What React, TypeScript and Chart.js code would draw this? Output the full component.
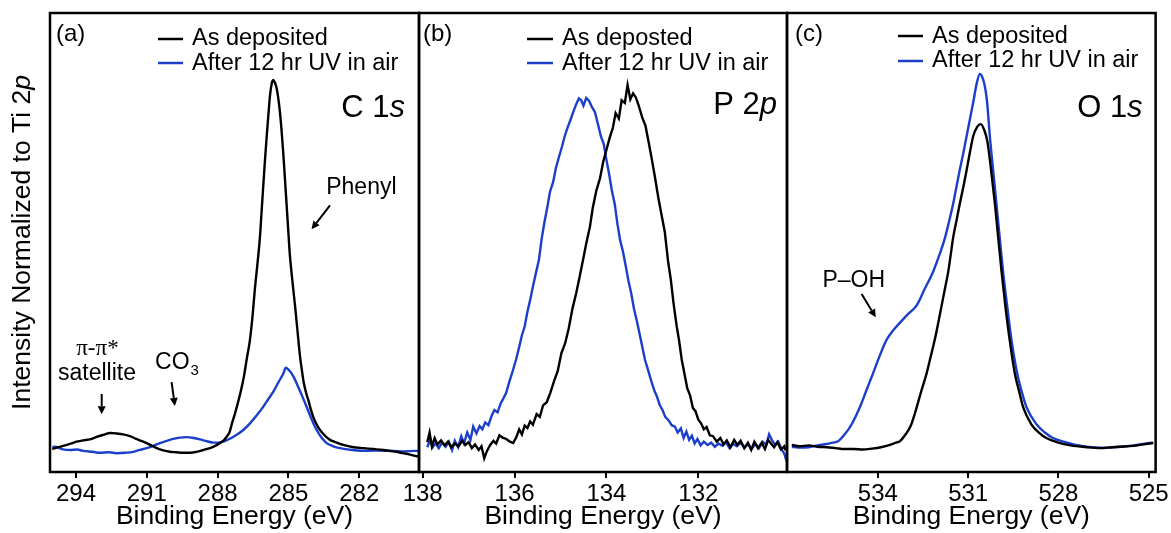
import React, { useEffect, useRef } from 'react';
import { Chart, registerables } from 'chart.js';

Chart.register(...registerables);

const FONT = "'Liberation Sans', Arial, Helvetica, sans-serif";
const SERIF = "'Liberation Serif', 'DejaVu Serif', serif";
const BLACK = '#000000';
const BLUE = '#1c3fc9';

// ---- tick labels ----
const TICKS_C1S = [294, 291, 288, 285, 282];
const TICKS_P2P = [138, 136, 134, 132];
const TICKS_O1S = [534, 531, 528, 525];

// ---- series names ----
const LEGEND_A = ['As deposited', 'After 12 hr UV in air'];
const LEGEND_B = ['As deposted', 'After 12 hr UV in air'];
const LEGEND_C = ['As deposited', 'After 12 hr UV in air'];

// ---- (a) C 1s ----
const C1S_ASDEP_EV = [295.0, 294.89, 294.6, 294.39, 294.15, 293.97, 293.7, 293.41, 293.1, 292.84, 292.55, 292.28, 292.0, 291.71, 291.45, 291.15, 290.85, 290.58, 290.3, 290.02, 289.75, 289.46, 289.15, 288.89, 288.6, 288.32, 288.1, 287.9, 287.72, 287.6, 287.5, 287.38, 287.25, 287.12, 287.0, 286.88, 286.76, 286.63, 286.52, 286.42, 286.31, 286.21, 286.14, 286.07, 286.0, 285.92, 285.85, 285.78, 285.71, 285.64, 285.57, 285.5, 285.43, 285.36, 285.29, 285.22, 285.15, 285.08, 285.01, 284.94, 284.87, 284.8, 284.72, 284.65, 284.58, 284.51, 284.44, 284.37, 284.27, 284.16, 284.05, 283.95, 283.81, 283.67, 283.45, 283.24, 282.95, 282.68, 282.25, 281.83, 281.4, 280.98, 280.55, 280.14, 279.85, 279.64, 279.5];
const C1S_ASDEP_I = [5.0, 5.2, 5.6, 5.9, 6.3, 6.6, 6.9, 7.1, 7.7, 8.1, 8.5, 8.4, 8.2, 7.8, 7.2, 6.6, 5.9, 5.2, 4.7, 4.4, 4.3, 4.2, 4.2, 4.4, 4.8, 5.2, 5.7, 6.3, 7.0, 7.8, 8.6, 10.8, 13.0, 15.5, 18.0, 21.0, 24.8, 28.8, 34.0, 40.0, 45.5, 51.0, 56.5, 62.1, 67.5, 73.2, 77.8, 82.1, 84.6, 85.4, 84.8, 83.6, 81.4, 78.4, 74.3, 69.5, 64.0, 58.4, 52.8, 47.3, 43.5, 40.0, 36.2, 32.5, 28.8, 25.2, 22.5, 20.0, 17.6, 15.7, 13.6, 12.0, 10.4, 9.2, 7.9, 7.0, 6.4, 5.9, 5.4, 5.2, 5.0, 4.8, 4.5, 4.1, 3.8, 3.5, 3.4];
const C1S_UV_EV = [295.0, 294.89, 294.6, 294.25, 293.95, 293.69, 293.3, 292.98, 292.6, 292.28, 291.9, 291.57, 291.3, 291.01, 290.72, 290.44, 290.15, 289.88, 289.6, 289.31, 289.02, 288.75, 288.45, 288.18, 287.95, 287.76, 287.5, 287.19, 286.9, 286.63, 286.35, 286.07, 285.85, 285.64, 285.43, 285.22, 285.11, 285.0, 284.88, 284.76, 284.65, 284.44, 284.23, 284.02, 283.81, 283.6, 283.38, 283.1, 282.82, 282.3, 281.69, 281.2, 280.7, 280.2, 279.64, 279.5];
const C1S_UV_I = [5.4, 5.5, 5.0, 4.8, 4.9, 4.6, 4.4, 4.2, 4.3, 4.1, 4.2, 4.4, 4.8, 5.2, 5.7, 6.3, 6.8, 7.2, 7.5, 7.6, 7.4, 7.1, 6.7, 6.4, 6.4, 6.6, 7.2, 8.1, 9.2, 10.6, 12.3, 14.2, 15.9, 17.5, 19.5, 21.4, 22.7, 22.3, 21.6, 20.5, 19.3, 16.8, 14.2, 11.5, 9.2, 7.5, 6.3, 5.6, 5.2, 4.8, 4.6, 4.7, 4.6, 4.5, 4.6, 4.6];

// ---- (b) P 2p ----
const P2P_ASDEP_EV = [137.9, 137.85, 137.8, 137.74, 137.68, 137.6, 137.52, 137.45, 137.38, 137.3, 137.22, 137.14, 137.07, 137.0, 136.93, 136.86, 136.78, 136.72, 136.66, 136.6, 136.53, 136.46, 136.4, 136.33, 136.26, 136.18, 136.1, 136.03, 135.96, 135.9, 135.84, 135.78, 135.72, 135.66, 135.6, 135.52, 135.45, 135.38, 135.3, 135.22, 135.14, 135.06, 134.98, 134.9, 134.82, 134.74, 134.66, 134.58, 134.51, 134.44, 134.36, 134.3, 134.22, 134.14, 134.07, 134.0, 133.93, 133.86, 133.8, 133.73, 133.67, 133.6, 133.54, 133.48, 133.42, 133.36, 133.3, 133.22, 133.15, 133.08, 133.01, 132.94, 132.87, 132.8, 132.73, 132.66, 132.6, 132.54, 132.47, 132.42, 132.36, 132.3, 132.24, 132.18, 132.12, 132.06, 132.0, 131.94, 131.88, 131.82, 131.75, 131.68, 131.6, 131.52, 131.45, 131.38, 131.3, 131.22, 131.15, 131.08, 131.0, 130.92, 130.85, 130.78, 130.7, 130.62, 130.55, 130.48, 130.41, 130.35, 130.28, 130.2, 130.13, 130.1];
const P2P_ASDEP_I = [6.5, 8.6, 5.6, 7.4, 6.0, 6.9, 5.8, 6.6, 5.4, 6.2, 5.6, 6.8, 5.9, 6.5, 5.2, 6.0, 4.8, 5.6, 3.0, 4.6, 5.9, 6.8, 6.2, 8.0, 7.5, 7.2, 6.6, 6.3, 7.6, 9.3, 8.2, 10.1, 9.6, 11.0, 10.3, 12.6, 12.0, 14.5, 15.2, 17.3, 19.8, 22.0, 25.9, 28.0, 31.3, 35.6, 38.9, 42.7, 46.2, 49.8, 53.4, 57.4, 61.3, 64.0, 67.6, 70.2, 72.8, 75.0, 78.2, 77.0, 81.0, 80.4, 84.3, 81.2, 82.5, 81.6, 79.9, 77.2, 75.4, 71.8, 68.0, 64.0, 59.7, 56.0, 52.3, 46.0, 42.0, 36.8, 31.7, 28.7, 24.4, 21.3, 18.2, 16.7, 14.0, 13.2, 11.4, 10.6, 9.3, 9.8, 8.0, 7.8, 6.6, 7.4, 6.0, 6.9, 5.4, 7.0, 5.9, 6.8, 5.2, 6.4, 4.8, 6.6, 5.2, 6.4, 5.0, 7.0, 6.1, 5.4, 6.5, 4.9, 5.6, 4.7];
const P2P_UV_EV = [137.9, 137.84, 137.78, 137.72, 137.65, 137.58, 137.5, 137.43, 137.36, 137.3, 137.23, 137.16, 137.1, 137.03, 136.96, 136.9, 136.83, 136.76, 136.7, 136.64, 136.57, 136.5, 136.44, 136.37, 136.3, 136.24, 136.18, 136.11, 136.04, 135.97, 135.9, 135.84, 135.78, 135.72, 135.66, 135.6, 135.53, 135.47, 135.41, 135.35, 135.29, 135.23, 135.16, 135.1, 135.04, 134.97, 134.91, 134.85, 134.78, 134.72, 134.66, 134.6, 134.55, 134.5, 134.44, 134.38, 134.32, 134.25, 134.18, 134.12, 134.06, 134.0, 133.94, 133.88, 133.82, 133.76, 133.7, 133.64, 133.58, 133.52, 133.46, 133.4, 133.34, 133.28, 133.22, 133.16, 133.1, 133.03, 132.96, 132.9, 132.84, 132.78, 132.72, 132.65, 132.58, 132.51, 132.45, 132.38, 132.32, 132.26, 132.2, 132.14, 132.08, 132.02, 131.95, 131.88, 131.8, 131.72, 131.64, 131.56, 131.48, 131.4, 131.32, 131.24, 131.16, 131.08, 131.0, 130.92, 130.84, 130.76, 130.68, 130.6, 130.52, 130.46, 130.4, 130.33, 130.26, 130.19, 130.13, 130.08];
const P2P_UV_I = [5.4, 6.9, 5.4, 6.3, 5.2, 6.4, 5.5, 6.6, 4.8, 6.8, 5.4, 7.8, 6.2, 8.6, 7.0, 9.9, 8.4, 10.0, 9.3, 10.8, 10.2, 12.2, 13.5, 13.0, 15.0, 16.1, 17.3, 19.8, 22.0, 24.4, 27.2, 29.8, 31.7, 34.9, 37.5, 40.4, 43.6, 46.2, 50.8, 54.4, 57.5, 61.0, 63.2, 66.2, 68.4, 70.8, 73.1, 74.9, 76.8, 78.5, 80.1, 81.4, 81.0, 79.8, 81.5, 80.9, 79.6, 78.4, 75.6, 73.1, 71.5, 68.0, 64.8, 61.2, 58.4, 54.0, 50.4, 48.0, 44.9, 41.6, 38.9, 35.5, 33.0, 30.2, 27.3, 24.4, 22.4, 20.0, 17.8, 16.4, 14.6, 13.5, 12.0, 11.3, 10.2, 9.9, 8.6, 9.5, 7.4, 8.8, 7.0, 7.9, 6.2, 7.2, 5.8, 6.6, 5.9, 6.4, 5.5, 6.2, 5.7, 6.5, 5.2, 6.1, 5.6, 6.4, 5.3, 6.0, 5.0, 6.1, 5.2, 6.6, 6.0, 8.2, 7.0, 5.9, 6.6, 5.0, 4.0, 2.4];

// ---- (c) O 1s ----
const O1S_ASDEP_EV = [536.86, 536.6, 536.3, 536.0, 535.7, 535.4, 535.1, 534.8, 534.5, 534.2, 533.9, 533.6, 533.4, 533.27, 533.1, 532.9, 532.71, 532.55, 532.38, 532.25, 532.11, 531.99, 531.88, 531.77, 531.66, 531.58, 531.5, 531.39, 531.28, 531.16, 531.05, 530.94, 530.83, 530.7, 530.58, 530.47, 530.36, 530.25, 530.11, 530.0, 529.89, 529.76, 529.62, 529.45, 529.3, 529.17, 528.9, 528.65, 528.4, 528.0, 527.6, 527.06, 526.6, 526.2, 525.95, 525.5, 525.0, 524.85];
const O1S_ASDEP_I = [5.9, 5.6, 5.8, 5.5, 5.4, 5.2, 5.0, 5.0, 4.9, 5.1, 5.4, 5.9, 6.4, 6.7, 8.0, 10.2, 14.1, 17.8, 21.5, 25.0, 28.8, 32.6, 36.3, 40.0, 43.7, 47.3, 51.0, 54.7, 58.4, 62.1, 65.8, 69.7, 73.2, 75.2, 75.8, 74.6, 72.0, 66.5, 58.4, 51.0, 43.7, 36.0, 28.8, 21.5, 17.4, 14.1, 10.4, 8.6, 7.4, 6.4, 5.8, 5.4, 5.2, 5.4, 5.5, 5.7, 6.2, 6.3];
const O1S_UV_EV = [536.86, 536.6, 536.3, 536.0, 535.7, 535.5, 535.32, 535.1, 534.87, 534.6, 534.38, 534.16, 533.94, 533.71, 533.5, 533.27, 533.0, 532.71, 532.45, 532.16, 531.95, 531.77, 531.63, 531.5, 531.39, 531.28, 531.16, 531.05, 530.94, 530.83, 530.72, 530.61, 530.5, 530.43, 530.37, 530.28, 530.17, 530.06, 529.95, 529.84, 529.7, 529.56, 529.37, 529.22, 529.06, 528.73, 528.45, 528.18, 527.83, 527.5, 527.06, 526.6, 526.2, 525.95, 525.5, 525.0, 524.85];
const O1S_UV_I = [5.5, 5.3, 5.4, 5.8, 6.1, 6.4, 6.7, 8.2, 10.4, 14.1, 17.8, 21.5, 25.3, 28.8, 30.8, 32.5, 34.4, 36.3, 39.8, 43.7, 47.4, 51.0, 54.7, 58.4, 62.1, 65.8, 69.5, 73.2, 76.9, 80.6, 84.5, 86.7, 85.5, 83.5, 80.6, 73.2, 65.8, 58.4, 51.0, 43.7, 36.0, 28.8, 21.5, 17.5, 14.1, 10.4, 8.6, 7.4, 6.6, 6.0, 5.5, 5.3, 5.4, 5.5, 5.8, 6.3, 6.4];

const W = 1171;
const H = 533;

type Ann =
  | { kind: 'text'; x: number; y: number; text: string; align: CanvasTextAlign; font: string; sub?: string }
  | { kind: 'arrow'; x1: number; y1: number; x2: number; y2: number };

type Spec = {
  id: string;
  label: string;
  labelDx: number;
  element: [string, string];
  elementDx: number;
  elementDy: number;
  xmin: number;
  xmax: number;
  ticks: number[];
  padLeft: number;
  padRight: number;
  series: { ev: number[]; val: number[]; name: string; color: string }[];
  legend: { x0: number; x1: number; tx: number; lineY: number[]; textY: number[] };
  ann: Ann[];
  yTitle?: boolean;
  smooth: boolean;
};

function drawArrow(ctx: CanvasRenderingContext2D, x1: number, y1: number, x2: number, y2: number) {
  const ang = Math.atan2(y2 - y1, x2 - x1);
  const head = 8;
  const half = 4;
  const bx = x2 - head * Math.cos(ang);
  const by = y2 - head * Math.sin(ang);
  ctx.strokeStyle = '#000';
  ctx.fillStyle = '#000';
  ctx.lineWidth = 2;
  ctx.beginPath();
  ctx.moveTo(x1, y1);
  ctx.lineTo(bx, by);
  ctx.stroke();
  ctx.beginPath();
  ctx.moveTo(x2, y2);
  ctx.lineTo(bx + half * Math.sin(ang), by - half * Math.cos(ang));
  ctx.lineTo(bx - half * Math.sin(ang), by + half * Math.cos(ang));
  ctx.closePath();
  ctx.fill();
}

const decorPlugin = {
  id: 'decor',
  afterDatasetsDraw(chart: any, _args: any, opts: any) {
    const spec: Spec = opts.spec;
    if (!spec) return;
    const { ctx, chartArea: ca, scales } = chart;
    const xs = scales.x;
    const ys = scales.y;
    ctx.save();
    // frame
    ctx.strokeStyle = '#000';
    ctx.lineWidth = 2.5;
    ctx.strokeRect(ca.left, ca.top, ca.right - ca.left, ca.bottom - ca.top);

    // panel label
    ctx.fillStyle = '#000';
    ctx.textAlign = 'left';
    ctx.textBaseline = 'alphabetic';
    ctx.font = `24px ${FONT}`;
    ctx.fillText(spec.label, ca.left + spec.labelDx, ca.top + 28);

    // legend
    const lg = spec.legend;
    chart.data.datasets.forEach((ds: any, i: number) => {
      const ly = ca.top + lg.lineY[i];
      ctx.strokeStyle = ds.borderColor;
      ctx.lineWidth = 2.5;
      ctx.beginPath();
      ctx.moveTo(ca.left + lg.x0, ly);
      ctx.lineTo(ca.left + lg.x1, ly);
      ctx.stroke();
      ctx.fillStyle = '#000';
      ctx.font = `23.5px ${FONT}`;
      ctx.textAlign = 'left';
      ctx.fillText(ds.label, ca.left + lg.tx, ca.top + lg.textY[i]);
    });

    // element label with italic orbital letter
    const [reg, ital] = spec.element;
    ctx.font = `31px ${FONT}`;
    const w1 = ctx.measureText(reg).width;
    ctx.font = `italic 31px ${FONT}`;
    const w2 = ctx.measureText(ital).width;
    const sx = ca.right - spec.elementDx - (w1 + w2);
    const sy = ca.top + spec.elementDy;
    ctx.font = `31px ${FONT}`;
    ctx.fillText(reg, sx, sy);
    ctx.font = `italic 31px ${FONT}`;
    ctx.fillText(ital, sx + w1, sy);

    // annotations
    spec.ann.forEach((a) => {
      if (a.kind === 'arrow') {
        drawArrow(ctx, xs.getPixelForValue(a.x1), ys.getPixelForValue(a.y1), xs.getPixelForValue(a.x2), ys.getPixelForValue(a.y2));
      } else {
        const px = xs.getPixelForValue(a.x);
        const py = ys.getPixelForValue(a.y);
        ctx.fillStyle = '#000';
        ctx.font = a.font;
        ctx.textAlign = a.align;
        ctx.fillText(a.text, px, py);
        if (a.sub) {
          const tw = ctx.measureText(a.text).width;
          const startX = a.align === 'center' ? px + tw / 2 : a.align === 'right' ? px : px + tw;
          ctx.font = `15px ${FONT}`;
          ctx.textAlign = 'left';
          ctx.fillText(a.sub, startX + 1, py + 6);
        }
      }
    });

    // y-axis title (with italic p)
    if (spec.yTitle) {
      ctx.save();
      const cy = (ca.top + ca.bottom) / 2;
      ctx.translate(23, cy);
      ctx.rotate(-Math.PI / 2);
      ctx.textBaseline = 'middle';
      ctx.textAlign = 'left';
      const partA = 'Intensity Normalized to Ti 2';
      const partB = 'p';
      ctx.font = `26.5px ${FONT}`;
      const wa = ctx.measureText(partA).width;
      ctx.font = `italic 26.5px ${FONT}`;
      const wb = ctx.measureText(partB).width;
      const x0 = -(wa + wb) / 2;
      ctx.font = `26.5px ${FONT}`;
      ctx.fillStyle = '#000';
      ctx.fillText(partA, x0, 0);
      ctx.font = `italic 26.5px ${FONT}`;
      ctx.fillText(partB, x0 + wa, 0);
      ctx.restore();
    }
    ctx.restore();
  },
};

function buildConfig(spec: Spec): any {
  return {
    type: 'line',
    data: {
      datasets: spec.series.map((s) => ({
        label: s.name,
        data: s.ev.map((x, i) => ({ x, y: s.val[i] })),
        borderColor: s.color,
        backgroundColor: s.color,
        borderWidth: 2.4,
        pointRadius: 0,
        fill: false,
        tension: spec.smooth ? 0.4 : 0,
        cubicInterpolationMode: spec.smooth ? 'monotone' : 'default',
      })),
    },
    options: {
      animation: false,
      responsive: false,
      devicePixelRatio: 1,
      events: [],
      layout: { padding: { left: spec.padLeft, right: spec.padRight, top: 13, bottom: 0 } },
      plugins: {
        legend: { display: false },
        tooltip: { enabled: false },
        decor: { spec },
      },
      scales: {
        x: {
          type: 'linear',
          position: 'bottom',
          reverse: true,
          min: spec.xmin,
          max: spec.xmax,
          afterBuildTicks: (scale: any) => {
            scale.ticks = spec.ticks.map((v) => ({ value: v }));
          },
          afterFit: (scale: any) => {
            scale.height = 61;
          },
          ticks: {
            autoSkip: false,
            maxRotation: 0,
            padding: 2,
            color: '#000',
            font: { family: FONT, size: 24 },
            callback: (v: number) => String(v),
          },
          grid: {
            display: true,
            drawOnChartArea: false,
            drawTicks: true,
            tickLength: 6,
            color: '#000',
            lineWidth: 2,
          },
          border: { display: false },
          title: {
            display: true,
            text: 'Binding Energy (eV)',
            color: '#000',
            font: { family: FONT, size: 26.5 },
            padding: { top: 0, bottom: 0 },
          },
        },
        y: {
          type: 'linear',
          display: false,
          min: 0,
          max: 100,
        },
      },
    },
    plugins: [decorPlugin],
  };
}

const SPECS: Spec[] = [
  {
    id: 'a',
    label: '(a)',
    labelDx: 6,
    element: ['C 1', 's'],
    elementDx: 14,
    elementDy: 104,
    xmin: 279.47,
    xmax: 295.1,
    ticks: TICKS_C1S,
    padLeft: 50,
    padRight: W - 419,
    series: [
      { ev: C1S_ASDEP_EV, val: C1S_ASDEP_I, name: LEGEND_A[0], color: BLACK },
      { ev: C1S_UV_EV, val: C1S_UV_I, name: LEGEND_A[1], color: BLUE },
    ],
    legend: { x0: 108, x1: 133, tx: 142, lineY: [26, 50], textY: [32, 56.5] },
    ann: [
      { kind: 'text', x: 281.91, y: 60.5, text: 'Phenyl', align: 'center', font: `23px ${FONT}` },
      { kind: 'arrow', x1: 283.24, y1: 58.1, x2: 284.02, y2: 52.9 },
      { kind: 'text', x: 293.09, y: 25.5, text: 'π-π*', align: 'center', font: `23px ${SERIF}` },
      { kind: 'text', x: 293.11, y: 20.0, text: 'satellite', align: 'center', font: `23px ${FONT}` },
      { kind: 'arrow', x1: 292.91, y1: 17.0, x2: 292.91, y2: 12.6 },
      { kind: 'text', x: 290.65, y: 22.4, text: 'CO', align: 'left', font: `23px ${FONT}`, sub: '3' },
      { kind: 'arrow', x1: 289.95, y1: 19.6, x2: 289.81, y2: 14.4 },
    ],
    yTitle: true,
    smooth: true,
  },
  {
    id: 'b',
    label: '(b)',
    labelDx: 4,
    element: ['P 2', 'p'],
    elementDx: 10,
    elementDy: 101,
    xmin: 130.07,
    xmax: 138.08,
    ticks: TICKS_P2P,
    padLeft: 419,
    padRight: W - 787,
    series: [
      { ev: P2P_ASDEP_EV, val: P2P_ASDEP_I, name: LEGEND_B[0], color: BLACK },
      { ev: P2P_UV_EV, val: P2P_UV_I, name: LEGEND_B[1], color: BLUE },
    ],
    legend: { x0: 108, x1: 134, tx: 143, lineY: [26, 50], textY: [32, 56.5] },
    ann: [],
    smooth: false,
  },
  {
    id: 'c',
    label: '(c)',
    labelDx: 8,
    element: ['O 1', 's'],
    elementDx: 13,
    elementDy: 104,
    xmin: 524.77,
    xmax: 537.02,
    ticks: TICKS_O1S,
    padLeft: 787,
    padRight: W - 1156,
    series: [
      { ev: O1S_ASDEP_EV, val: O1S_ASDEP_I, name: LEGEND_C[0], color: BLACK },
      { ev: O1S_UV_EV, val: O1S_UV_I, name: LEGEND_C[1], color: BLUE },
    ],
    legend: { x0: 111, x1: 136, tx: 145, lineY: [23, 48], textY: [29.5, 54] },
    ann: [
      { kind: 'text', x: 534.8, y: 40.3, text: 'P–OH', align: 'center', font: `23px ${FONT}` },
      { kind: 'arrow', x1: 534.54, y1: 38.8, x2: 534.07, y2: 33.7 },
    ],
    smooth: true,
  },
];

function Panel({ spec }: { spec: Spec }) {
  const ref = useRef<HTMLCanvasElement>(null);
  useEffect(() => {
    if (!ref.current) return;
    const chart = new Chart(ref.current, buildConfig(spec));
    return () => {
      chart.destroy();
    };
  }, [spec]);
  return (
    <canvas
      ref={ref}
      width={W}
      height={H}
      style={{ position: 'absolute', left: 0, top: 0, width: W, height: H }}
    />
  );
}

export default function App() {
  return (
    <div style={{ position: 'absolute', left: 0, top: 0, width: W, height: H, background: '#fff' }}>
      {SPECS.map((s) => (
        <Panel key={s.id} spec={s} />
      ))}
    </div>
  );
}
